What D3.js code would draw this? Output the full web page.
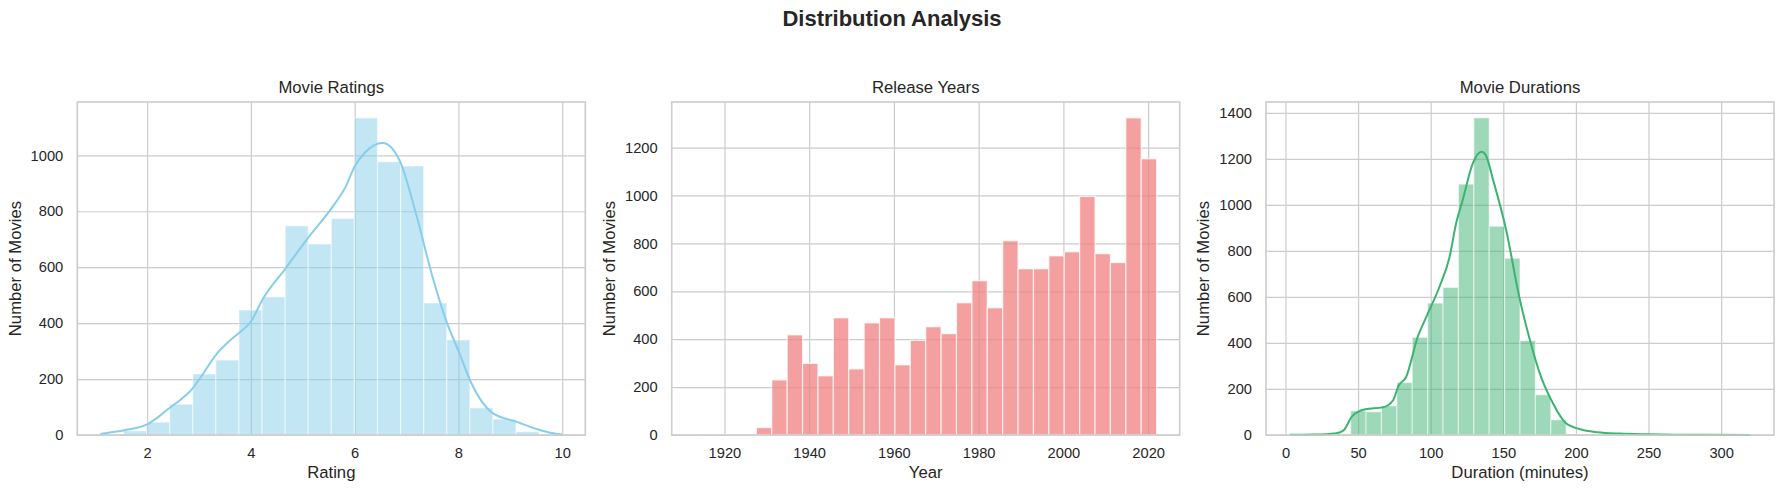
<!DOCTYPE html>
<html>
<head>
<meta charset="utf-8">
<script src="https://cdn.jsdelivr.net/npm/d3@7"></script>
<style>
  body { margin: 0; background: #fff; }
  svg text { font-family: "Liberation Sans", Arial, sans-serif; fill: #262626; }
</style>
</head>
<body>
<div id="canvas"></div>
<script>
// values

// Movie Ratings: 20 bins between the min and max rating
var ratingRange = [1.1, 10.0]
var ratingCounts = [2, 15, 46, 110, 218, 268, 447, 494, 748, 683, 774, 1134, 977, 962, 472, 340, 97, 57, 12, 3]
var ratingKdeX = [1.1, 1.58, 2.0, 2.2, 2.42, 2.65, 2.87, 3.1, 3.32, 3.55, 3.77, 4.0, 4.22, 4.67, 5.12, 5.57, 5.83, 6.0, 6.2, 6.54, 6.86, 7.18, 7.5, 7.76, 8.02, 8.25, 8.66, 9.11, 9.5, 9.8, 10.0]
var ratingKdeY = [4, 18, 38, 62, 95, 127, 165, 225, 285, 330, 365, 405, 483, 596, 709, 815, 889, 960, 1010, 1044, 984, 793, 566, 411, 292, 185, 78, 48, 22, 7, 2]
var ratingTicks = [2, 4, 6, 8, 10]
var ratingCountTicks = [0, 200, 400, 600, 800, 1000]

// Release Years: 30 bins
var yearRange = [1913, 2022]
var yearCounts = [1, 0, 1, 3, 31, 230, 418, 299, 247, 489, 276, 468, 489, 293, 395, 452, 423, 552, 644, 531, 811, 694, 694, 748, 765, 996, 757, 720, 1324, 1153]
var yearTicks = [1920, 1940, 1960, 1980, 2000, 2020]
var yearCountTicks = [0, 200, 400, 600, 800, 1000, 1200]

// Movie Durations: 30 bins
var durationRange = [2.5, 320.5]
var durationCounts = [1, 2, 1, 5, 105, 101, 127, 228, 424, 573, 641, 1090, 1378, 907, 768, 410, 175, 66, 3, 2, 2, 1, 2, 1, 1, 1, 0, 1, 0, 1]
var durationKdeX = [3, 20, 35, 40, 46, 55, 67, 74, 78, 83, 91, 98, 106, 113, 117.5, 122, 129, 135, 138, 143, 152, 161, 168, 175, 184, 193, 203, 215, 230, 250, 280, 320]
var durationKdeY = [1, 2, 8, 20, 82, 112, 120, 150, 215, 251, 425, 527, 643, 773, 919, 1020, 1180, 1231, 1215, 1108, 890, 600, 420, 270, 140, 52, 25, 12, 6, 3, 1, 0]
var durationTicks = [0, 50, 100, 150, 200, 250, 300]
var durationCountTicks = [0, 200, 400, 600, 800, 1000, 1200, 1400]

var titles = ["Movie Ratings", "Release Years", "Movie Durations"]
var xLabels = ["Rating", "Year", "Duration (minutes)"]
var yLabel = "Number of Movies"
var suptitle = "Distribution Analysis"

var width = 1784
var height = 492
var plotW = 508
var plotTop = 102
var plotBottom = 435

var svg = d3.select("#canvas")
    .append("svg")
    .attr("width", width)
    .attr("height", height)

svg.append("text")
    .attr("x", 892)
    .attr("y", 26)
    .attr("text-anchor", "middle")
    .style("font-size", "22px")
    .style("font-weight", "bold")
    .text(suptitle)

var panels = [
    { left: 77.3, range: ratingRange, counts: ratingCounts, kdeX: ratingKdeX, kdeY: ratingKdeY,
      xTicks: ratingTicks, yTicks: ratingCountTicks, color: "#87ceeb", alpha: 0.5 },
    { left: 671.7, range: yearRange, counts: yearCounts, kdeX: null, kdeY: null,
      xTicks: yearTicks, yTicks: yearCountTicks, color: "#f08080", alpha: 0.75 },
    { left: 1266, range: durationRange, counts: durationCounts, kdeX: durationKdeX, kdeY: durationKdeY,
      xTicks: durationTicks, yTicks: durationCountTicks, color: "#3cb371", alpha: 0.5 }
]

panels.forEach(function (p, i) { drawPanel(p, i) })

function drawPanel(p, i) {
    var n = p.counts.length
    var span = p.range[1] - p.range[0]
    var bw = span / n
    var pad = span * 0.05

    var x = d3.scaleLinear()
        .domain([p.range[0] - pad, p.range[1] + pad])
        .range([p.left, p.left + plotW])
    var y = d3.scaleLinear()
        .domain([0, d3.max(p.counts) * 1.05])
        .range([plotBottom, plotTop])

    var g = svg.append("g")

    // grid lines + tick labels
    var xAxis = g.append("g")
        .attr("transform", `translate(0,${plotBottom})`)
        .call(d3.axisBottom(x)
            .tickValues(p.xTicks)
            .tickSize(-(plotBottom - plotTop))
            .tickPadding(13)
            .tickFormat(d3.format("d")))
    var yAxis = g.append("g")
        .attr("transform", `translate(${p.left},0)`)
        .call(d3.axisLeft(y)
            .tickValues(p.yTicks)
            .tickSize(-plotW)
            .tickPadding(14)
            .tickFormat(d3.format("d")))

    ;[xAxis, yAxis].forEach(function (a) {
        a.select(".domain").remove()
        a.selectAll(".tick line").attr("stroke", "#cccccc").attr("stroke-width", 1.2)
        a.selectAll(".tick text")
            .style("font-size", "14.7px")
            .attr("fill", "#262626")
    })

    // histogram bars
    var bins = p.counts.map(function (c, k) {
        return { x0: p.range[0] + k * bw, x1: p.range[0] + (k + 1) * bw, count: c }
    }).filter(function (b) { return b.count > 0 })

    g.selectAll(".bar")
        .data(bins)
        .enter()
        .append("rect")
        .attr("x", function (d) { return x(d.x0) })
        .attr("y", function (d) { return y(d.count) })
        .attr("width", function (d) { return x(d.x1) - x(d.x0) })
        .attr("height", function (d) { return plotBottom - y(d.count) })
        .attr("fill", p.color)
        .attr("fill-opacity", p.alpha)
        .attr("stroke", "#ffffff")
        .attr("stroke-opacity", p.alpha)
        .attr("stroke-width", 1.2)

    // kde line
    if (p.kdeX) {
        var pts = p.kdeX.map(function (v, k) { return [v, p.kdeY[k]] })
        g.append("path")
            .datum(pts)
            .attr("fill", "none")
            .attr("stroke", p.color)
            .attr("stroke-width", 2)
            .attr("d", d3.line()
                .x(function (d) { return x(d[0]) })
                .y(function (d) { return y(d[1]) })
                .curve(d3.curveMonotoneX))
    }

    // spines
    g.append("rect")
        .attr("x", p.left)
        .attr("y", plotTop)
        .attr("width", plotW)
        .attr("height", plotBottom - plotTop)
        .attr("fill", "none")
        .attr("stroke", "#cccccc")
        .attr("stroke-width", 1.6)

    // titles and labels
    g.append("text")
        .attr("x", p.left + plotW / 2)
        .attr("y", 93)
        .attr("text-anchor", "middle")
        .style("font-size", "16.7px")
        .text(titles[i])

    g.append("text")
        .attr("x", p.left + plotW / 2)
        .attr("y", 478)
        .attr("text-anchor", "middle")
        .style("font-size", "16.7px")
        .text(xLabels[i])

    g.append("text")
        .attr("transform", `translate(${p.left - 62.5},${(plotTop + plotBottom) / 2}) rotate(-90)`)
        .attr("dy", "0.35em")
        .attr("text-anchor", "middle")
        .style("font-size", "16.7px")
        .text(yLabel)
}
</script>
</body>
</html>
